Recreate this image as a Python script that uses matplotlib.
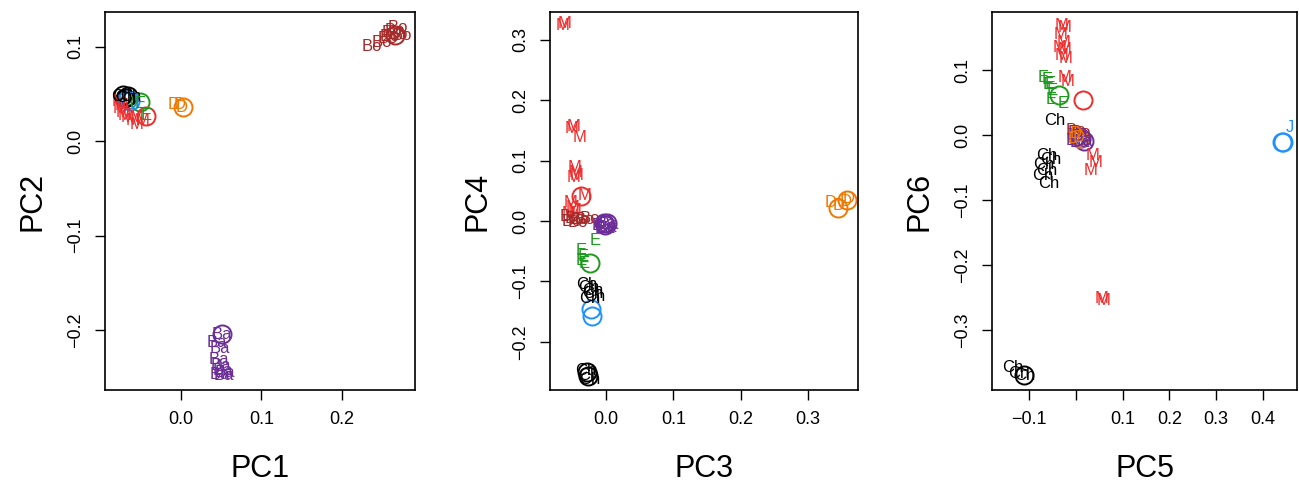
import matplotlib
matplotlib.use("Agg")
from matplotlib import pyplot as plt

plt.rcParams['font.family'] = ['Liberation Sans', 'DejaVu Sans']

# group colours and labels
colors = {'M': '#EE2C2C', 'Bo': '#A52A2A', 'Ba': '#6B2D98', 'D': '#F07800',
          'E': '#1E9A1E', 'Ch': '#000000', 'J': '#1E90FF'}

# ---- PC1 vs PC2 ----
M_12 = [(-0.078, 0.042), (-0.076, 0.035), (-0.074, 0.038), (-0.072, 0.030), (-0.070, 0.027),
        (-0.066, 0.025), (-0.060, 0.022), (-0.055, 0.025), (-0.055, 0.018), (-0.048, 0.022)]
Ch_12 = [(-0.073, 0.047), (-0.068, 0.046), (-0.062, 0.047)]
E_12 = [(-0.051, 0.040), (-0.043, 0.027)]
D_12 = [(-0.009, 0.039), (-0.001, 0.039), (0.001, 0.036)]
Bo_12 = [(0.237, 0.101), (0.250, 0.105), (0.257, 0.109), (0.262, 0.115), (0.266, 0.118),
         (0.270, 0.113), (0.275, 0.112), (0.270, 0.121), (0.260, 0.111)]
Ba_12 = [(0.051, -0.205), (0.045, -0.213), (0.049, -0.220), (0.047, -0.232), (0.050, -0.238),
         (0.052, -0.243), (0.055, -0.245), (0.048, -0.247), (0.053, -0.248)]
circ_12 = [('Ch', -0.072, 0.049), ('Ch', -0.066, 0.048), ('Ch', -0.069, 0.046), ('E', -0.051, 0.042),
           ('J', -0.067, 0.044), ('J', -0.063, 0.043), ('M', -0.043, 0.027),
           ('D', 0.002, 0.036), ('Bo', 0.266, 0.113), ('Ba', 0.051, -0.205)]

# ---- PC3 vs PC4 ----
M_34 = [(-0.064, 0.323), (-0.061, 0.327), (-0.051, 0.154), (-0.048, 0.156), (-0.039, 0.138),
        (-0.046, 0.088), (-0.045, 0.080), (-0.043, 0.075), (-0.048, 0.072),
        (-0.053, 0.030), (-0.050, 0.022), (-0.047, 0.017), (-0.055, 0.012), (-0.031, 0.043)]
Bo_34 = [(-0.053, 0.008), (-0.046, 0.005), (-0.039, 0.002), (-0.031, 0.003), (-0.024, 0.005),
         (-0.042, -0.002), (-0.050, -0.001)]
Ba_34 = [(-0.006, -0.008), (0.002, -0.010), (0.004, -0.006), (-0.002, -0.012), (0.000, -0.004)]
E_34 = [(-0.016, -0.032), (-0.036, -0.048), (-0.034, -0.058), (-0.036, -0.065), (-0.033, -0.070)]
Ch_34 = [(-0.028, -0.105), (-0.025, -0.110), (-0.020, -0.120), (-0.016, -0.125), (-0.024, -0.128),
         (-0.020, -0.115), (-0.030, -0.248), (-0.026, -0.256), (-0.024, -0.262)]
D_34 = [(0.333, 0.030), (0.345, 0.025), (0.355, 0.033), (0.360, 0.038)]
circ_34 = [('M', -0.037, 0.041), ('Ba', -0.003, -0.003), ('Ba', -0.001, -0.006), ('Ba', 0.001, -0.004),
           ('E', -0.024, -0.070), ('J', -0.022, -0.145), ('J', -0.021, -0.158),
           ('Ch', -0.028, -0.250), ('Ch', -0.026, -0.256), ('D', 0.345, 0.022), ('D', 0.357, 0.035)]

# ---- PC5 vs PC6 ----
M_56 = [(-0.031, 0.169), (-0.025, 0.165), (-0.033, 0.154), (-0.027, 0.143), (-0.035, 0.134),
        (-0.025, 0.131), (-0.031, 0.123), (-0.021, 0.118), (-0.025, 0.088), (-0.017, 0.082),
        (0.035, -0.031), (0.042, -0.042), (0.031, -0.054), (0.056, -0.251), (0.060, -0.254)]
E_56 = [(-0.069, 0.088), (-0.062, 0.085), (-0.058, 0.077), (-0.054, 0.080), (-0.050, 0.069),
        (-0.052, 0.054), (-0.027, 0.049)]
Ch_56 = [(-0.046, 0.023), (-0.062, -0.031), (-0.054, -0.038), (-0.069, -0.046), (-0.062, -0.054),
         (-0.071, -0.062), (-0.058, -0.074), (-0.135, -0.357), (-0.121, -0.366), (-0.110, -0.369)]
Bo_56 = [(0.000, 0.007), (0.010, 0.004)]
Ba_56 = [(0.004, 0.004), (0.012, -0.002), (0.000, -0.008), (0.016, -0.010), (0.008, -0.012)]
D_56 = [(0.000, 0.003), (0.006, -0.003), (-0.004, -0.006)]
J_56 = [(0.458, 0.012)]
circ_56 = [('M', 0.015, 0.054), ('E', -0.035, 0.062), ('Ba', 0.017, -0.009), ('Ba', 0.012, -0.004),
           ('D', 0.006, -0.005), ('D', 0.002, -0.001), ('Ch', -0.110, -0.369),
           ('J', 0.440, -0.011), ('J', 0.444, -0.011)]

panels = [
    dict(name=('PC1', 'PC2'), groups={'M': M_12, 'Ch': Ch_12, 'E': E_12, 'D': D_12, 'Bo': Bo_12, 'Ba': Ba_12},
         circles=circ_12, xlim=(-0.0944, 0.291), ylim=(-0.264, 0.137),
         xticks=[0.0, 0.1, 0.2], xtl=['0.0', '0.1', '0.2'],
         yticks=[-0.2, -0.1, 0.0, 0.1], ytl=['\u22120.2', '\u22120.1', '0.0', '0.1'],
         pos=[0.0808, 0.194, 0.2387, 0.781]),
    dict(name=('PC3', 'PC4'), groups={'M': M_34, 'Bo': Bo_34, 'Ba': Ba_34, 'E': E_34, 'Ch': Ch_34, 'D': D_34},
         circles=circ_34, xlim=(-0.083, 0.374), ylim=(-0.28, 0.346),
         xticks=[0.0, 0.1, 0.2, 0.3], xtl=['0.0', '0.1', '0.2', '0.3'],
         yticks=[-0.2, -0.1, 0.0, 0.1, 0.2, 0.3], ytl=['\u22120.2', '\u22120.1', '0.0', '0.1', '0.2', '0.3'],
         pos=[0.4234, 0.194, 0.2371, 0.781]),
    dict(name=('PC5', 'PC6'), groups={'M': M_56, 'E': E_56, 'Ch': Ch_56, 'Bo': Bo_56, 'Ba': Ba_56, 'D': D_56, 'J': J_56},
         circles=circ_56, xlim=(-0.179, 0.473), ylim=(-0.392, 0.189),
         xticks=[-0.1, 0.0, 0.1, 0.2, 0.3, 0.4], xtl=['\u22120.1', '', '0.1', '0.2', '0.3', '0.4'],
         yticks=[-0.3, -0.2, -0.1, 0.0, 0.1], ytl=['\u22120.3', '\u22120.2', '\u22120.1', '0.0', '0.1'],
         pos=[0.7637, 0.194, 0.2348, 0.781]),
]

fig = plt.figure(figsize=(12.99, 4.84), dpi=100)

for p in panels:
    ax = fig.add_axes(p['pos'])
    for g, pts in p['groups'].items():
        for x, y in pts:
            ax.text(x, y, g, color=colors[g], fontsize=12, ha='center', va='center')
    for g, x, y in p['circles']:
        ax.plot(x, y, 'o', mfc='none', mec=colors[g], ms=13, mew=1.4)
    ax.set_xlim(*p['xlim'])
    ax.set_ylim(*p['ylim'])
    ax.set_xticks(p['xticks'])
    ax.set_xticklabels(p['xtl'])
    ax.set_yticks(p['yticks'])
    ax.set_yticklabels(p['ytl'], rotation=90, va='center')
    ax.tick_params(direction='out', length=7, width=1, labelsize=13, pad=8)
    for s in ax.spines.values():
        s.set_linewidth(1.2)
    ax.set_xlabel(p['name'][0], fontsize=22, labelpad=19)
    ax.set_ylabel(p['name'][1], fontsize=22, labelpad=14)

fig.savefig('out.png', dpi=100)
